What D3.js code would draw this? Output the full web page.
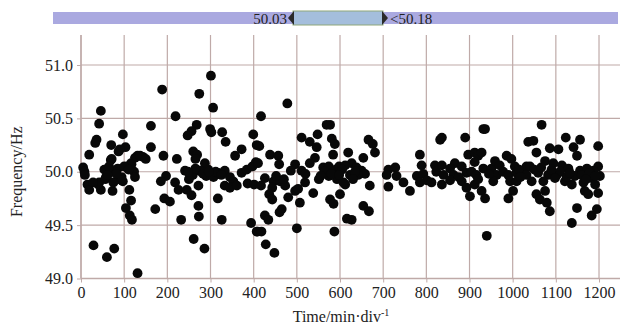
<!DOCTYPE html>
<html><head><meta charset="utf-8">
<script src="https://cdn.jsdelivr.net/npm/d3@7"></script>
<style>body{margin:0;background:#fff}svg{display:block}text{font-family:"Liberation Serif","Times New Roman",Times,serif;fill:#222}</style>
</head><body><svg id="c" width="620" height="333"></svg>
<script>
const xTicks = [0,100,200,300,400,500,600,700,800,900,1000,1100,1200];
const yTicks = [49.0,49.5,50.0,50.5,51.0];
const sliderLow = "50.03";
const sliderHigh = "<50.18";
const xTitle = "Time/min·div";
const yTitle = "Frequency/Hz";
const times = [
188,46,42,162,97,33,36,70,103,162,19,87,69,131,143,191,116,5,8,54,85,108,123,9,58,56,89,197,15,42,97,185,19,46,73,112,94,94,77,75,90,71,125,137,117,125,193,116,172,104,113,118,29,77,60,131,40,100,82,65,28,150,
301,274,306,219,268,256,247,299,302,327,335,399,372,357,407,260,269,265,222,287,241,253,259,250,275,290,307,318,333,345,353,333,345,361,372,384,397,405,386,401,218,226,206,245,256,272,272,273,317,232,326,394,407,261,286,280,295,265,312,325,
478,417,577,569,511,548,530,581,588,546,413,438,457,459,410,584,542,496,561,574,590,511,486,426,446,461,473,417,443,519,496,503,551,574,593,612,538,480,436,443,507,577,585,600,465,460,426,434,616,409,418,500,587,428,448,565,580,598,555,520,530,
666,676,681,619,654,627,638,612,650,658,623,608,669,642,654,667,627,712,728,708,731,712,747,762,785,789,778,793,801,785,812,820,823,832,635,605,630,
932,936,836,890,897,912,920,928,912,866,836,855,882,840,863,893,905,916,932,836,855,882,893,912,901,928,936,940,951,959,970,986,997,1005,963,978,990,1009,1024,955,994,1009,1001,990,1036,1032,875,920,1015,945,
1067,1123,1156,1048,1198,1141,1086,1106,1055,1149,1075,1094,1040,1114,1198,1129,1156,1172,1187,1032,1059,1082,1102,1144,1183,1202,1044,1071,1121,1137,1164,1191,1075,1055,1167,1175,1198,1063,1079,1086,1149,1195,1183,1137,1110,1125,1090,1160,1178,1050,
248,283,296,452,470,598,1018,1098,1132,1170,1192,1066,62,110
];
const freqs = [
50.77,50.57,50.45,50.43,50.35,50.27,50.30,50.25,50.23,50.23,50.16,50.19,50.11,50.15,50.14,50.15,50.08,50.04,50.0,50.02,50.03,50.05,50.0,49.97,49.95,49.93,49.94,49.96,49.88,49.9,49.91,49.91,49.83,49.83,49.82,49.83,49.95,49.92,50.0,49.9,50.21,50.12,50.13,50.15,50.07,49.95,49.75,49.73,49.65,49.66,49.59,49.55,49.31,49.28,49.2,49.05,49.88,50.05,49.98,50.05,49.9,50.12,
50.9,50.73,50.6,50.52,50.44,50.38,50.34,50.4,50.37,50.37,50.28,50.35,50.21,50.15,50.25,50.19,50.16,50.12,50.12,50.08,50.01,49.99,49.97,49.93,50.01,49.96,49.95,49.99,50.01,49.95,49.91,49.87,49.85,49.87,49.99,50.02,50.05,50.09,49.89,49.88,49.9,49.83,49.72,49.83,49.78,49.87,49.68,49.58,49.75,49.55,49.55,49.52,49.44,49.37,49.28,50.0,50.02,50.03,50.0,49.97,
50.64,50.52,50.44,50.44,50.32,50.35,50.28,50.31,50.26,50.23,50.24,50.16,50.15,50.07,50.08,50.16,50.13,50.07,50.04,50.05,50.02,50.01,50.01,49.94,49.91,49.91,49.87,49.87,49.85,49.9,49.82,49.84,49.93,49.96,49.93,49.88,49.8,49.76,49.79,49.74,49.71,49.74,49.7,49.79,49.65,49.62,49.59,49.55,49.56,49.44,49.44,49.47,49.44,49.32,49.24,50.0,49.98,50.05,49.96,49.98,50.08,
50.3,50.26,50.18,50.18,50.13,50.08,50.04,50.06,50.01,49.98,49.97,49.9,49.87,49.97,49.68,49.63,49.55,50.02,50.04,49.97,49.96,49.86,49.9,49.82,50.16,50.06,49.96,49.98,49.92,49.9,49.9,50.06,50.0,50.3,50.0,50.02,49.93,
50.4,50.4,50.32,50.32,50.16,50.18,50.15,50.18,50.09,50.08,50.06,50.03,50.05,49.97,49.97,49.99,50.0,49.97,50.03,49.88,49.92,49.91,49.85,49.88,49.77,49.82,49.75,49.4,50.03,50.1,50.06,50.15,50.12,50.05,49.97,50.0,49.97,49.99,49.99,49.91,49.91,49.91,49.82,49.75,50.28,50.05,49.95,49.93,50.02,49.98,
50.44,50.32,50.3,50.29,50.24,50.23,50.22,50.21,50.18,50.15,50.1,50.08,50.05,50.06,50.05,50.03,50.01,50.03,50.01,49.97,49.99,49.97,49.97,49.96,49.94,49.96,49.91,49.91,49.91,49.88,49.9,49.88,49.82,49.79,49.82,49.79,49.8,49.74,49.71,49.63,49.66,49.65,49.59,49.52,50.0,49.95,50.02,49.97,49.99,50.02,
50.0,49.98,50.0,49.96,49.93,49.97,49.95,49.94,49.99,49.93,49.96,50.04,49.97,50.02
];

const svg = d3.select("#c");
const x = d3.scaleLinear().domain([0,1250]).range([81, 620.6]);
const y = d3.scaleLinear().domain([49,51]).range([278.5, 65]);
const plotTop = 35;
const gridCol = "#bfaaa8";

// grid
svg.append("g").selectAll("line").data(xTicks).join("line")
  .attr("x1", d=>x(d)).attr("x2", d=>x(d)).attr("y1", plotTop).attr("y2", y(49))
  .attr("stroke", gridCol).attr("stroke-width", 1.2);
svg.append("g").selectAll("line").data(yTicks.filter(d=>d>49)).join("line")
  .attr("x1", x(0)).attr("x2", 620).attr("y1", d=>y(d)).attr("y2", d=>y(d))
  .attr("stroke", gridCol).attr("stroke-width", 1.2);

// axes
const xa = svg.append("g").attr("transform", `translate(0,${y(49)})`)
  .call(d3.axisBottom(x).tickValues(xTicks).tickSize(4).tickPadding(4).tickFormat(d3.format("d")));
const ya = svg.append("g").attr("transform", `translate(${x(0)},0)`)
  .call(d3.axisLeft(y).tickValues(yTicks).tickSize(4).tickPadding(4).tickFormat(d3.format(".1f")));
[xa, ya].forEach(a => {
  a.attr("font-family", null);
  a.select(".domain").attr("stroke", gridCol).attr("stroke-width", 1.4);
  a.selectAll(".tick line").attr("stroke", gridCol);
  a.selectAll("text").attr("font-size", 16).attr("fill", "#222");
});
xa.select(".domain").attr("d", `M${x(0)},0H620`);
ya.select(".domain").attr("d", `M0,${plotTop}V${y(49)}`);

// points
svg.append("g").selectAll("circle").data(times.map((t,i)=>[t,freqs[i]])).join("circle")
  .attr("cx", d=>x(d[0])).attr("cy", d=>y(d[1])).attr("r", 4.9).attr("fill", "#080808");

// titles
svg.append("text").attr("transform", `translate(22,${y(50)}) rotate(-90)`)
  .attr("text-anchor", "middle").attr("font-size", 16).text(yTitle);
const xt = svg.append("text").attr("x", 341).attr("y", 322).attr("text-anchor", "middle").attr("font-size", 16);
xt.append("tspan").text(xTitle);
xt.append("tspan").attr("dy", -6).attr("font-size", 10).text("-1");

// slider
const sl = svg.append("g");
sl.append("rect").attr("x", 53).attr("y", 12).attr("width", 565).attr("height", 12).attr("fill", "#aaa9e0");
sl.append("rect").attr("x", 293).attr("y", 11).attr("width", 90).attr("height", 14).attr("fill", "#a4bedc").attr("stroke", "#8fa77a").attr("stroke-width", 1);
sl.append("path").attr("d", "M294,11V25L288,18Z").attr("fill", "#2a2a2a");
sl.append("path").attr("d", "M382,11V25L388,18Z").attr("fill", "#2a2a2a");
sl.append("text").attr("x", 287).attr("y", 24).attr("text-anchor", "end").attr("font-size", 15).text(sliderLow);
sl.append("text").attr("x", 390).attr("y", 24).attr("font-size", 15).text(sliderHigh);
</script></body></html>
